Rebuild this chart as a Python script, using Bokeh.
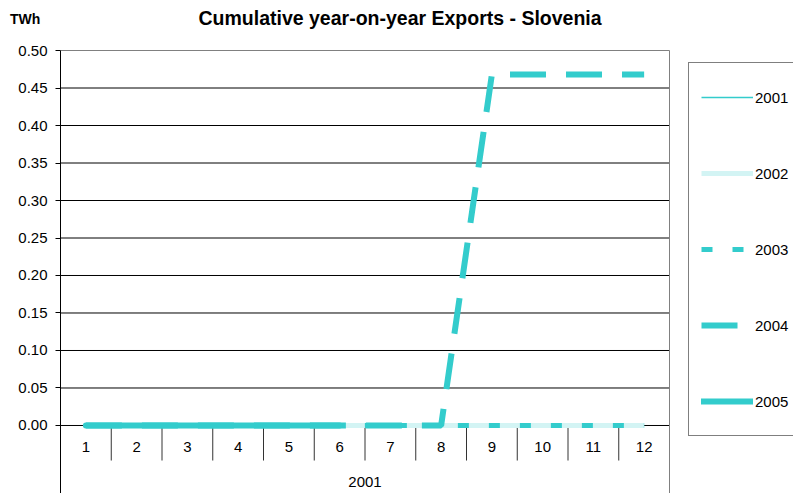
from bokeh.plotting import figure
from bokeh.models import Range1d, FixedTicker, LinearAxis, PrintfTickFormatter, Legend, LegendItem
from bokeh.core.properties import value
from bokeh.embed import file_html
from bokeh.resources import INLINE

# ---- data ----
months = [1, 2, 3, 4, 5, 6, 7, 8, 9, 10, 11, 12]
cat_labels = ["1", "2", "3", "4", "5", "6", "7", "8", "9", "10", "11", "12"]
group_label = "2001"
s2001 = [0.00, 0.00, 0.00, 0.00, 0.00, 0.00, 0.00, 0.00, 0.00, 0.00, 0.00, 0.00]
s2002 = [0.00, 0.00, 0.00, 0.00, 0.00, 0.00, 0.00, 0.00, 0.00, 0.00, 0.00, 0.00]
s2003 = [0.00, 0.00, 0.00, 0.00, 0.00, 0.00, 0.00, 0.00, 0.00, 0.00, 0.00, 0.00]
s2004 = [0.00, 0.00, 0.00, 0.00, 0.00, 0.00, 0.00, 0.00, 0.468, 0.468, 0.468, 0.468]
s2005 = [0.00, 0.00, 0.00, 0.00, 0.00, 0.00]
yticks = [0.00, 0.05, 0.10, 0.15, 0.20, 0.25, 0.30, 0.35, 0.40, 0.45, 0.50]
title_text = "Cumulative  year-on-year Exports - Slovenia"
unit_text = "TWh"

FONT = "Liberation Sans"
TEAL = "#33CCCC"
PALE = "#D3F4F4"

Y_BOT = -0.090667
Y_TOP = 0.542667
X_LO = months[0] - 0.5
X_HI = months[-1] + 0.5

p = figure(width=793, height=493, output_backend="svg", toolbar_location=None,
           x_range=Range1d(X_LO, 14.943), y_range=Range1d(Y_BOT, Y_TOP),
           x_axis_type=None, y_axis_type=None,
           min_border_left=60, min_border_right=0, min_border_top=18, min_border_bottom=0,
           outline_line_color=None, background_fill_color="white", border_fill_color="white")

p.title.text = title_text
p.title.text_font = FONT
p.title.text_font_size = "19.5px"
p.title.text_font_style = "bold"
p.title.text_color = "black"
p.title.align = "left"
p.title.offset = 138
p.title.vertical_align = "bottom"
p.title.standoff = -20

yaxis = LinearAxis(ticker=FixedTicker(ticks=yticks), formatter=PrintfTickFormatter(format="%.2f"),
                   bounds=(Y_BOT, yticks[-1]))
yaxis.axis_line_color = "black"
yaxis.major_tick_line_color = "black"
yaxis.major_tick_out = 5
yaxis.major_tick_in = 0
yaxis.minor_tick_out = 0
yaxis.minor_tick_in = 0
yaxis.major_label_standoff = 8
yaxis.major_label_text_font = FONT
yaxis.major_label_text_font_size = "15px"
yaxis.major_label_text_color = "black"
yaxis.axis_label = unit_text
yaxis.axis_label_orientation = "horizontal"
yaxis.axis_label_align = "end"
yaxis.axis_label_standoff = -25
yaxis.axis_label_text_font = FONT
yaxis.axis_label_text_font_size = "14px"
yaxis.axis_label_text_font_style = "bold"
yaxis.axis_label_text_color = "black"
p.add_layout(yaxis, "left")

# horizontal gridlines (plot area only) and plot-area border
n = len(yticks) - 1
p.segment(x0=[X_LO] * n, y0=yticks[:-1], x1=[X_HI] * n, y1=yticks[:-1],
          line_color="black", line_width=1)
p.segment(x0=[X_LO], y0=[yticks[-1]], x1=[X_HI], y1=[yticks[-1]],
          line_color="#808080", line_width=1)
p.segment(x0=[X_HI], y0=[Y_BOT], x1=[X_HI], y1=[yticks[-1]],
          line_color="#808080", line_width=1)

# category separators and labels
bounds = [m + 0.5 for m in months[:-1]]
p.segment(x0=bounds, y0=[0.0] * len(bounds), x1=bounds, y1=[-0.0467] * len(bounds),
          line_color="#333333", line_width=1)
p.text(x=months, y=[-0.0293] * len(months), text=cat_labels, text_align="center",
       text_baseline="middle", text_font=value(FONT), text_font_size="15px", text_color="black")
p.text(x=[sum(months) / len(months)], y=[-0.076], text=[group_label], text_align="center",
       text_baseline="middle", text_font=value(FONT), text_font_size="15px", text_color="black")

r1 = p.line(months, s2001, line_color=TEAL, line_width=1.5)
r2 = p.line(months, s2002, line_color=PALE, line_width=5)
r3 = p.line(months, s2003, line_color=TEAL, line_width=5, line_dash="11 20")
r4 = p.line(months, s2004, line_color=TEAL, line_width=6, line_dash="36 20")
r5 = p.line(months[:len(s2005)], s2005, line_color=TEAL, line_width=6, line_cap="round")

legend = Legend(items=[LegendItem(label="2001", renderers=[r1]),
                       LegendItem(label="2002", renderers=[r2]),
                       LegendItem(label="2003", renderers=[r3]),
                       LegendItem(label="2004", renderers=[r4]),
                       LegendItem(label="2005", renderers=[r5])],
                location=(628, 57), glyph_width=52, glyph_height=44, label_height=44,
                label_width=60, label_standoff=2, padding=12, spacing=32, margin=0,
                border_line_color="black", border_line_width=1, background_fill_color="white",
                label_text_font=FONT, label_text_font_size="15px", label_text_color="black")
p.add_layout(legend)

open("out.html", "w").write(file_html(p, INLINE))
